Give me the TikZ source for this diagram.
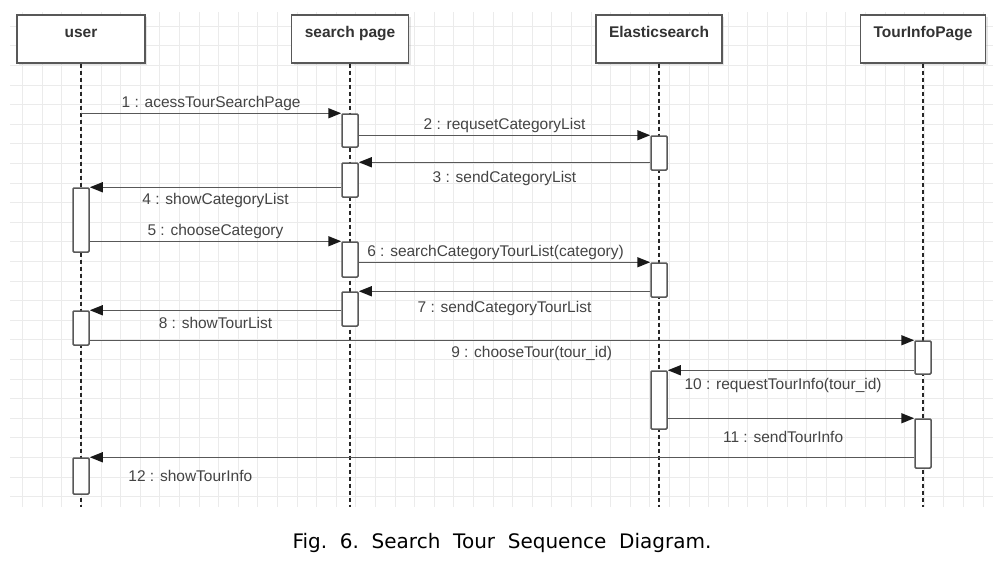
\documentclass[tikz,border=0pt]{standalone}
\usepackage{fontspec}
\setmainfont{Liberation Sans}
\newfontfamily\capfont{DejaVu Sans}
\usetikzlibrary{arrows.meta,shadows,calc}
\definecolor{gridc}{HTML}{EBEBEB}
\definecolor{linec}{HTML}{585858}
\definecolor{txtc}{HTML}{444444}
\begin{document}
\begin{tikzpicture}[x=1pt,y=-1pt,
 hdr/.style={draw=linec, line width=1.3pt, fill=white, minimum height=48pt, inner sep=4pt,
   text height=18pt, text depth=22pt, font=\fontsize{15.5pt}{18pt}\selectfont\bfseries, text=black!80,
   drop shadow={shadow xshift=2pt,shadow yshift=-2pt,opacity=0.2}},
 lifeln/.style={draw=black!85, line width=1.1pt, dash pattern=on 4pt off 3pt},
 act/.style={draw=linec, line width=1.5pt, fill=white, minimum width=16pt, inner sep=0pt, rounded corners=1pt},
 msg/.style={draw=linec, line width=1.5pt, -{Triangle[length=13pt,width=10pt,color=black!90]}},
 lbl/.style={font=\fontsize{15.5pt}{18pt}\selectfont, text=txtc, inner sep=2pt}
]
\fill[white] (0,0) rectangle (1007,560);
\useasboundingbox (0,0) rectangle (1007,560);
% grid
\foreach \k in {0,...,49} \draw[gridc, line width=0.8pt] ({22.6+19.6*\k},12) -- ({22.6+19.6*\k},507);
\foreach \k in {0,...,24} \draw[gridc, line width=0.8pt] (10,{26.2+19.6*\k}) -- (993,{26.2+19.6*\k});
% headers
\node[hdr, minimum width=128pt] (user) at (81,39) {user};
\node[hdr, minimum width=117pt] (search) at (350,39) {search page};
\node[hdr, minimum width=126pt] (es) at (659,39) {Elasticsearch};
\node[hdr, minimum width=125pt] (tip) at (923,39) {TourInfoPage};
% lifelines
\coordinate (userEnd) at (81,507);
\coordinate (searchEnd) at (350,507);
\coordinate (esEnd) at (659,507);
\coordinate (tipEnd) at (923,507);
\draw[lifeln] (user.south) -- (userEnd);
\draw[lifeln] (search.south) -- (searchEnd);
\draw[lifeln] (es.south) -- (esEnd);
\draw[lifeln] (tip.south) -- (tipEnd);
% activations
\node[act, minimum height=33pt] (S1) at (350,130.5) {};
\node[act, minimum height=34pt] (E1) at (659,153) {};
\node[act, minimum height=34pt] (S2) at (350,180) {};
\node[act, minimum height=64pt] (U1) at (81,220) {};
\node[act, minimum height=35pt] (S3) at (350,259.5) {};
\node[act, minimum height=34pt] (E2) at (659,280) {};
\node[act, minimum height=34pt] (S4) at (350,309) {};
\node[act, minimum height=34pt] (U2) at (81,328) {};
\node[act, minimum height=33pt] (T1) at (923,357.5) {};
\node[act, minimum height=58pt] (E3) at (659,400) {};
\node[act, minimum height=49pt] (T2) at (923,443.5) {};
\node[act, minimum height=36pt] (U3) at (81,476) {};
% messages
\draw[msg] (user.south |- S1.north) -- node[lbl,above]{1 : acessTourSearchPage} (S1.north west);
\draw[msg] (S1.east |- E1.north) -- node[lbl,above]{2 : requsetCategoryList} (E1.north west);
\draw[msg] (E1.west |- S2.north) -- node[lbl,below,yshift=-6pt]{3 : sendCategoryList} (S2.north east);
\draw[msg] (S2.west |- U1.north) -- node[lbl,below,yshift=-3pt]{4 : showCategoryList} (U1.north east);
\draw[msg] (U1.east |- S3.north) -- node[lbl,above]{5 : chooseCategory} (S3.north west);
\draw[msg] (S3.east |- E2.north) -- node[lbl,above,xshift=-9pt]{6 : searchCategoryTourList(category)} (E2.north west);
\draw[msg] (E2.west |- S4.north) -- node[lbl,below,yshift=-7pt]{7 : sendCategoryTourList} (S4.north east);
\draw[msg] (S4.west |- U2.north) -- node[lbl,below,yshift=-4pt]{8 : showTourList} (U2.north east);
\draw[msg] (U2.east |- T1.north) -- node[lbl,below,pos=0.536,yshift=-3pt]{9 : chooseTour(tour\_id)} (T1.north west);
\draw[msg] (T1.west |- E3.north) -- node[lbl,below,pos=0.532,yshift=-5pt]{10 : requestTourInfo(tour\_id)} (E3.north east);
\draw[msg] (E3.east |- T2.north) -- node[lbl,below,pos=0.468,yshift=-10pt]{11 : sendTourInfo} (T2.north west);
\draw[msg] (T2.west |- U3.north) -- node[lbl,below,pos=0.878,yshift=-10pt]{12 : showTourInfo} (U3.north east);
% caption
\node[font=\capfont\fontsize{20pt}{23pt}\selectfont, text=black] (cap) at (502,543) {Fig.\ \ 6.\ \ Search\ \ Tour\ \ Sequence\ \ Diagram.};
\end{tikzpicture}
\end{document}
